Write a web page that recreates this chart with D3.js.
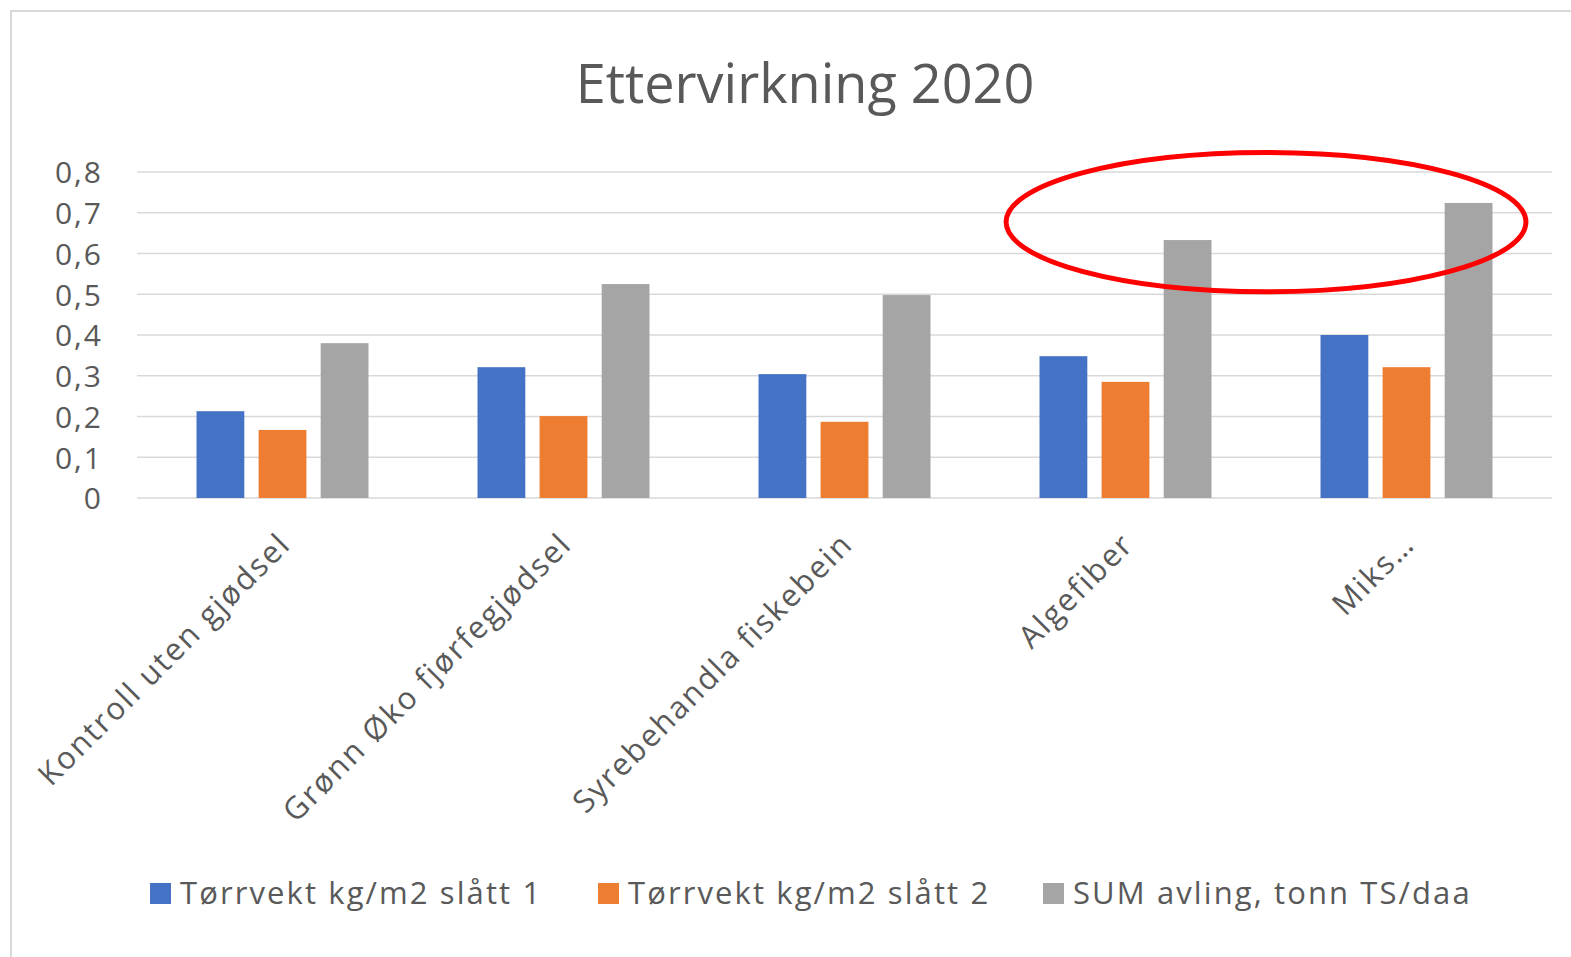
<!DOCTYPE html>
<html>
<head>
<meta charset="utf-8">
<script src="https://cdn.jsdelivr.net/npm/d3@7"></script>
<style>
  html, body { margin: 0; padding: 0; background: #fff; }
  svg { display: block; }
  text { font-family: "Open Sans", Lato, sans-serif; fill: #595959; }
</style>
</head>
<body>
<svg id="chart" width="1571" height="957"></svg>
<script>
// Treatments on the x axis
const categories = [
  "Kontroll uten gjødsel",
  "Grønn Øko fjørfegjødsel",
  "Syrebehandla fiskebein",
  "Algefiber",
  "Miks…"
];

// Series names and values
const seriesNames = [
  "Tørrvekt kg/m2 slått 1",
  "Tørrvekt kg/m2 slått 2",
  "SUM avling, tonn TS/daa"
];
const slatt1 = [0.213, 0.321, 0.304, 0.348, 0.400];
const slatt2 = [0.167, 0.201, 0.187, 0.285, 0.321];
const sumAvling = [0.380, 0.525, 0.498, 0.633, 0.724];

// Y axis ticks
const yTicks = [0, 0.1, 0.2, 0.3, 0.4, 0.5, 0.6, 0.7, 0.8];

const titleText = "Ettervirkning 2020";
const colors = ["#4472C4", "#ED7D31", "#A5A5A5"];

const seriesValues = [slatt1, slatt2, sumAvling];
const rows = categories.map((c, i) => ({
  category: c,
  values: seriesNames.map((s, j) => ({ series: s, idx: j, value: seriesValues[j][i] }))
}));

const FONT = "'Open Sans', Lato, sans-serif";
const svg = d3.select("#chart");

// Outer chart frame
svg.append("rect")
  .attr("x", 11).attr("y", 11)
  .attr("width", 1600).attr("height", 1000)
  .attr("fill", "none")
  .attr("stroke", "#d9d9d9")
  .attr("stroke-width", 2);

const plot = { left: 142, right: 1547, top: 172, bottom: 498 };

const x0 = d3.scaleBand()
  .domain(categories)
  .range([plot.left, plot.right])
  .paddingInner(0)
  .paddingOuter(0);

const groupWidth = x0.bandwidth() * 0.612;
const x1 = d3.scaleBand()
  .domain(d3.range(seriesNames.length))
  .range([-groupWidth / 2, groupWidth / 2])
  .paddingInner(0.23);

const y = d3.scaleLinear()
  .domain([0, 0.8])
  .range([plot.bottom, plot.top]);

const nf = d3.formatLocale({ decimal: ",", thousands: " ", grouping: [3], currency: ["", " kr"] }).format(".1~f");

// Horizontal gridlines
svg.append("g")
  .selectAll("line")
  .data(yTicks)
  .join("line")
  .attr("x1", plot.left - 5)
  .attr("x2", plot.right + 5)
  .attr("y1", d => y(d))
  .attr("y2", d => y(d))
  .attr("stroke", "#d9d9d9")
  .attr("stroke-width", 1.6);

// Y axis labels
const yAxis = d3.axisLeft(y)
  .tickValues(yTicks)
  .tickFormat(nf)
  .tickSize(0)
  .tickPadding(0);

const yAxisG = svg.append("g")
  .attr("transform", `translate(103,0)`)
  .call(yAxis);
yAxisG.select(".domain").remove();
yAxisG.selectAll("text")
  .attr("font-size", 30)
  .attr("font-family", FONT)
  .attr("letter-spacing", 2)
  .attr("fill", "#595959")
  .attr("dy", "0.36em");

// Bars
const groups = svg.append("g")
  .selectAll("g")
  .data(rows)
  .join("g")
  .attr("transform", d => `translate(${x0(d.category) + x0.bandwidth() / 2},0)`);

groups.selectAll("rect")
  .data(d => d.values)
  .join("rect")
  .attr("x", d => x1(d.idx))
  .attr("width", x1.bandwidth())
  .attr("y", d => y(d.value))
  .attr("height", d => y(0) - y(d.value))
  .attr("fill", d => colors[d.idx]);

// X axis category labels, rotated
const xAxis = d3.axisBottom(x0).tickSize(0).tickPadding(0);
const xAxisG = svg.append("g")
  .attr("transform", `translate(0,${plot.bottom})`)
  .call(xAxis);
xAxisG.select(".domain").remove();
xAxisG.selectAll(".tick text")
  .attr("font-size", 31)
  .attr("font-family", FONT)
  .attr("letter-spacing", 2)
  .attr("fill", "#595959")
  .attr("text-anchor", "end")
  .attr("y", 0)
  .attr("dy", 0)
  .attr("transform", "translate(10,48) rotate(-45)");

// Title
svg.append("text")
  .attr("x", 805)
  .attr("y", 103)
  .attr("text-anchor", "middle")
  .attr("font-size", 54)
  .text(titleText);

// Legend
const legendItems = [
  { name: seriesNames[0], color: colors[0], x: 150 },
  { name: seriesNames[1], color: colors[1], x: 598 },
  { name: seriesNames[2], color: colors[2], x: 1043 }
];
const legend = svg.append("g");
const li = legend.selectAll("g")
  .data(legendItems)
  .join("g")
  .attr("transform", d => `translate(${d.x},0)`);
li.append("rect")
  .attr("x", 0).attr("y", 883)
  .attr("width", 21).attr("height", 21)
  .attr("fill", d => d.color);
li.append("text")
  .attr("x", 30)
  .attr("y", 904)
  .attr("font-size", 31)
  .attr("letter-spacing", 2.1)
  .text(d => d.name);

// Highlight around the two highest totals
const cx = (x0(categories[3]) + x0(categories[4]) + x0.bandwidth()) / 2;
svg.append("ellipse")
  .attr("cx", cx)
  .attr("cy", y(0.677))
  .attr("rx", x0.bandwidth() * 0.925)
  .attr("ry", y(0) - y(0.171))
  .attr("fill", "none")
  .attr("stroke", "#ff0000")
  .attr("stroke-width", 5);
</script>
</body>
</html>
